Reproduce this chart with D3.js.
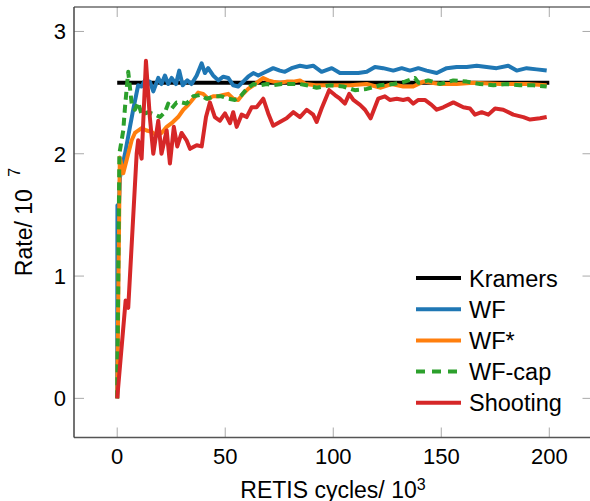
<!DOCTYPE html>
<html>
<head>
<meta charset="utf-8">
<script src="https://cdn.jsdelivr.net/npm/d3@7"></script>
<style>
  body { margin: 0; background: #fff; }
  svg { display: block; font-family: "Liberation Sans", Arial, sans-serif; }
</style>
</head>
<body>
<svg id="chart" width="590" height="501"></svg>
<script>
// values (x in 10^3 RETIS cycles, rate in 10^-7)
const kramersRate = 2.58;
const kramersX = [0, 200];

const wf = [[0,0],[0.1,1.58],[0.8,1.58],[1.3,1.81],[3.6,2.0],[5.9,2.22],[7.4,2.36],[9.7,2.56],[11.3,2.55],[12.8,2.6],[15.1,2.59],[16.7,2.51],[19,2.62],[20.5,2.57],[22.1,2.64],[23.6,2.57],[25.2,2.62],[27.2,2.57],[28.7,2.68],[30.3,2.56],[32.4,2.6],[34.4,2.57],[36.8,2.64],[39.1,2.74],[40.6,2.66],[42.1,2.7],[44.4,2.64],[46.8,2.6],[49.1,2.63],[51.4,2.62],[53.7,2.56],[56,2.55],[58.3,2.59],[60.6,2.63],[63,2.66],[65.3,2.64],[67.6,2.66],[69.9,2.68],[72.2,2.7],[75.3,2.68],[77.6,2.67],[80.7,2.7],[84.6,2.72],[87.7,2.71],[90.7,2.72],[94.6,2.67],[99.3,2.7],[103.1,2.66],[107.7,2.66],[111.6,2.66],[115.5,2.67],[119.3,2.71],[123.1,2.7],[127.8,2.68],[131.7,2.7],[135.5,2.68],[139.4,2.7],[143.2,2.68],[147.9,2.66],[152.5,2.7],[157.1,2.71],[161.8,2.71],[166.4,2.72],[171,2.71],[175.6,2.7],[181,2.72],[184.9,2.68],[189.5,2.7],[194.2,2.69],[198.8,2.68]];

const wfStar = [[0,0],[1.2,1.97],[2.8,1.84],[5.1,2.0],[6.7,2.11],[8.2,2.17],[9.7,2.19],[11.3,2.21],[13.6,2.19],[15.9,2.18],[18.2,2.15],[20.5,2.17],[22.9,2.22],[25.2,2.25],[28.2,2.3],[30.6,2.36],[32.9,2.4],[35.2,2.45],[37.5,2.5],[39.8,2.49],[42.1,2.45],[44.4,2.47],[46.8,2.47],[49.1,2.48],[51.4,2.49],[53.7,2.45],[56,2.44],[58.3,2.49],[60.6,2.53],[63,2.56],[65.3,2.59],[67.6,2.62],[69.9,2.6],[72.2,2.59],[75.3,2.58],[78.4,2.59],[81.5,2.59],[84.6,2.6],[87.2,2.57],[91.8,2.56],[100,2.56],[107.7,2.56],[115.5,2.57],[122,2.54],[127,2.57],[132.4,2.55],[137,2.55],[141.7,2.59],[149.4,2.57],[157.1,2.57],[164.8,2.58],[177.2,2.57],[189.5,2.57],[198.8,2.56]];

const wfCap = [[0,0],[1,2.0],[2.8,2.19],[3.6,2.38],[5.1,2.67],[6.7,2.41],[8.2,2.36],[9.7,2.42],[11.3,2.32],[14.4,2.34],[17.5,2.32],[19.8,2.3],[22.1,2.34],[23.6,2.41],[25.2,2.37],[27.5,2.42],[29.8,2.42],[32.1,2.41],[35.2,2.47],[38.3,2.48],[41.4,2.45],[45.2,2.47],[48.3,2.47],[51.4,2.45],[54.5,2.44],[57.6,2.48],[59.9,2.53],[63,2.57],[66.1,2.56],[69.2,2.57],[72.2,2.56],[76.1,2.57],[80,2.57],[84.6,2.57],[87.7,2.56],[92.3,2.54],[98.5,2.56],[104.6,2.55],[110,2.52],[115.5,2.53],[121.6,2.56],[127.8,2.57],[133.2,2.59],[137.8,2.62],[139.5,2.58],[144,2.6],[149.4,2.57],[155.6,2.6],[161.8,2.59],[167.9,2.57],[174.1,2.56],[180.3,2.57],[186.4,2.56],[192.6,2.56],[198.8,2.55]];

const shooting = [[0,0],[3.9,0.8],[5.1,0.74],[9,2.0],[9.7,2.11],[11.3,1.96],[13.3,2.76],[15.1,2.3],[16.7,2.0],[19,2.27],[20.5,2.0],[22.9,2.19],[24.4,1.92],[26.2,2.22],[27.8,2.06],[29.8,2.17],[32.1,2.11],[33.7,2.04],[36.8,2.07],[39.1,2.06],[41.1,2.3],[42.9,2.42],[45.2,2.3],[47.5,2.27],[49.9,2.33],[52.2,2.25],[53.7,2.34],[55.3,2.22],[57.6,2.32],[59.9,2.3],[62.2,2.38],[64.5,2.38],[67.6,2.45],[69.9,2.33],[72.2,2.23],[75.3,2.26],[78.4,2.29],[81.5,2.34],[84.6,2.3],[87.7,2.36],[90.7,2.32],[92.3,2.26],[94.6,2.37],[98.1,2.52],[100.8,2.48],[103.1,2.45],[105.4,2.41],[107.4,2.49],[109.3,2.44],[112.4,2.4],[114.7,2.36],[117.3,2.29],[120.8,2.45],[123.9,2.47],[126.2,2.44],[129.4,2.45],[132.4,2.44],[134.7,2.45],[137,2.41],[139.4,2.44],[142.4,2.44],[145.5,2.4],[147.9,2.36],[150.9,2.38],[155.6,2.42],[160.2,2.38],[163.3,2.37],[165.6,2.32],[168.7,2.34],[171.8,2.32],[174.9,2.37],[178.7,2.36],[183.3,2.32],[188,2.3],[191.1,2.28],[195.7,2.29],[198.8,2.3]];

const xTicks = [0, 50, 100, 150, 200];
const yTicks = [0, 1, 2, 3];
const legendNames = ["Kramers", "WF", "WF*", "WF-cap", "Shooting"];
const colors = ["#000000", "#1f77b4", "#ff7f0e", "#2ca02c", "#d62728"];

let svg = d3.select("#chart");
let x = d3.scaleLinear().domain([-20, 220]).range([74, 592.5]);
let y = d3.scaleLinear().domain([-0.32, 3.2]).range([437.5, 7]);

const tickCol = "#aaaaaa";

// ticks on all sides, pointing inward
let ax = svg.append("g");
xTicks.forEach(t => {
	ax.append("line").attr("x1", x(t)).attr("x2", x(t)).attr("y1", y.range()[0]).attr("y2", y.range()[0] - 10).attr("stroke", tickCol);
	ax.append("line").attr("x1", x(t)).attr("x2", x(t)).attr("y1", y.range()[1]).attr("y2", y.range()[1] + 10).attr("stroke", tickCol);
	ax.append("text").attr("x", x(t)).attr("y", 463.5).attr("text-anchor", "middle").attr("font-size", 22).text(t);
});
yTicks.forEach(t => {
	ax.append("line").attr("x1", 74).attr("x2", 84).attr("y1", y(t)).attr("y2", y(t)).attr("stroke", tickCol);
	ax.append("line").attr("x1", 582.5).attr("x2", 592.5).attr("y1", y(t)).attr("y2", y(t)).attr("stroke", tickCol);
	ax.append("text").attr("x", 66).attr("y", y(t) + 8).attr("text-anchor", "end").attr("font-size", 22).text(t);
});

// spines
svg.append("line").attr("x1", 74).attr("x2", 592.5).attr("y1", 7).attr("y2", 7).attr("stroke", "#222").attr("stroke-width", 1.2);
svg.append("line").attr("x1", 74).attr("x2", 592.5).attr("y1", 437.5).attr("y2", 437.5).attr("stroke", "#555").attr("stroke-width", 1.5);
svg.append("line").attr("x1", 74).attr("x2", 74).attr("y1", 7).attr("y2", 437.5).attr("stroke", "#444").attr("stroke-width", 1.5);

let line = d3.line().x(d => x(d[0])).y(d => y(d[1]));

let series = [
	{ data: kramersX.map(v => [v, kramersRate]), color: colors[0], dash: null },
	{ data: wf, color: colors[1], dash: null },
	{ data: wfStar, color: colors[2], dash: null },
	{ data: wfCap, color: colors[3], dash: "8,5" },
	{ data: shooting, color: colors[4], dash: null }
];

svg.append("g").selectAll("path")
	.data(series)
	.enter()
	.append("path")
	.attr("d", d => line(d.data))
	.attr("fill", "none")
	.attr("stroke", d => d.color)
	.attr("stroke-width", 4)
	.attr("stroke-linejoin", "round")
	.attr("stroke-dasharray", d => d.dash);

// legend
let lg = svg.append("g");
legendNames.forEach((n, i) => {
	let ly = 278 + i * 31.2;
	lg.append("line").attr("x1", 416).attr("x2", 461).attr("y1", ly).attr("y2", ly)
		.attr("stroke", colors[i]).attr("stroke-width", 4)
		.attr("stroke-dasharray", i === 3 ? "9,7" : null);
	lg.append("text").attr("x", 469).attr("y", ly + 8.5).attr("font-size", 23.5).text(n);
});

// axis labels
let xl = svg.append("text").attr("x", 333).attr("y", 497.5).attr("text-anchor", "middle").attr("font-size", 23);
xl.append("tspan").text("RETIS cycles/ 10");
xl.append("tspan").attr("dy", -8).attr("font-size", 16).text("3");

let yl = svg.append("text").attr("transform", "translate(32,222) rotate(-90)").attr("text-anchor", "middle").attr("font-size", 23);
yl.append("tspan").text("Rate/ 10 ");
yl.append("tspan").attr("dx", 6).attr("dy", -12).attr("font-size", 16).text("7");
</script>
</body>
</html>
